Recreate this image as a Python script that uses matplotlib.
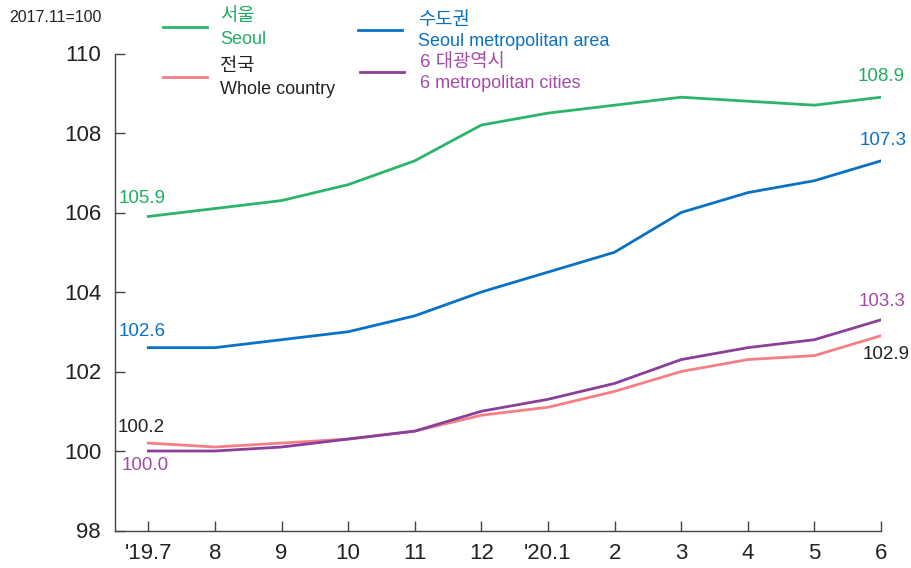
import matplotlib.pyplot as plt
import numpy as np

plt.rcParams['font.family'] = ['Liberation Sans', 'Noto Sans CJK KR', 'DejaVu Sans']

months = ["'19.7", "8", "9", "10", "11", "12", "'20.1", "2", "3", "4", "5", "6"]
seoul = [105.9, 106.1, 106.3, 106.7, 107.3, 108.2, 108.5, 108.7, 108.9, 108.8, 108.7, 108.9]
metro = [102.6, 102.6, 102.8, 103.0, 103.4, 104.0, 104.5, 105.0, 106.0, 106.5, 106.8, 107.3]
whole = [100.2, 100.1, 100.2, 100.3, 100.5, 100.9, 101.1, 101.5, 102.0, 102.3, 102.4, 102.9]
cities6 = [100.0, 100.0, 100.1, 100.3, 100.5, 101.0, 101.3, 101.7, 102.3, 102.6, 102.8, 103.3]

GREEN = '#2bb56a'
BLUE = '#0a72c4'
PINK = '#f47f86'
PURPLE = '#8a3f9a'
PURPLE_TXT = '#a54aa8'
GREEN_TXT = '#1fae5f'
AXC = '#444444'

W, H = 911, 568
fig = plt.figure(figsize=(W / 100, H / 100), dpi=100)
ax = fig.add_axes([115 / W, 37.5 / H, (881 - 115) / W, 477 / H])

x = np.arange(len(months))
lw = 2.0
ax.plot(x, whole, color=PINK, lw=lw)
ax.plot(x, cities6, color=PURPLE, lw=lw)
ax.plot(x, metro, color=BLUE, lw=lw)
ax.plot(x, seoul, color=GREEN, lw=lw)

ax.set_xlim(-0.5, 11)
ax.set_ylim(98, 110)
ax.set_yticks(np.arange(98, 111, 2))
ax.set_xticks(x)
ax.set_xticklabels(months)
for s in ['top', 'right']:
    ax.spines[s].set_visible(False)
for s in ['left', 'bottom']:
    ax.spines[s].set_color(AXC)
    ax.spines[s].set_linewidth(1.0)
ax.tick_params(axis='both', direction='in', length=7, width=1.0, color=AXC,
               labelsize=16, labelcolor='#222222')
ax.tick_params(axis='y', pad=10)
ax.tick_params(axis='x', pad=9)

# value labels at start and end
def lab(xi, yi, txt, dx, dy, c):
    ax.annotate(txt, (xi, yi), xytext=(dx, dy), textcoords='offset pixels',
                ha='center', va='center', fontsize=13.5, color=c)

lab(0, seoul[0], '%.1f' % seoul[0], -6, 18, GREEN_TXT)
lab(0, metro[0], '%.1f' % metro[0], -6, 16, BLUE)
lab(0, whole[0], '%.1f' % whole[0], -7, 16, '#222222')
lab(0, cities6[0], '%.1f' % cities6[0], -3, -15, PURPLE_TXT)
lab(11, seoul[-1], '%.1f' % seoul[-1], 0, 21, GREEN_TXT)
lab(11, metro[-1], '%.1f' % metro[-1], 2, 20, BLUE)
lab(11, cities6[-1], '%.1f' % cities6[-1], 1, 18, PURPLE_TXT)
lab(11, whole[-1], '%.1f' % whole[-1], 5, -19, '#222222')

def fx(px):
    return px / W

def fy(py):
    return 1 - py / H

fig.text(fx(9), fy(17), '2017.11=100', fontsize=11.5, color='#222222', va='center', ha='left')

# legend drawn by hand
legend = [
    (163, 27, 220, '서울', 'Seoul', GREEN, GREEN_TXT),
    (163, 77, 220, '전국', 'Whole country', PINK, '#222222'),
    (358, 30, 418, '수도권', 'Seoul metropolitan area', BLUE, BLUE),
    (360, 72, 420, '6 대광역시', '6 metropolitan cities', PURPLE, PURPLE_TXT),
]
for lx, ly, tx, kr, en, lc, tc in legend:
    fig.add_artist(plt.Line2D([fx(lx), fx(lx + 44)], [fy(ly), fy(ly)], color=lc, lw=lw))
    fig.text(fx(tx), fy(ly - 10), kr, fontsize=13.5, color=tc, va='center', ha='left')
    fig.text(fx(tx), fy(ly + 12), en, fontsize=13, color=tc, va='center', ha='left')

fig.savefig('out.png', dpi=100)
